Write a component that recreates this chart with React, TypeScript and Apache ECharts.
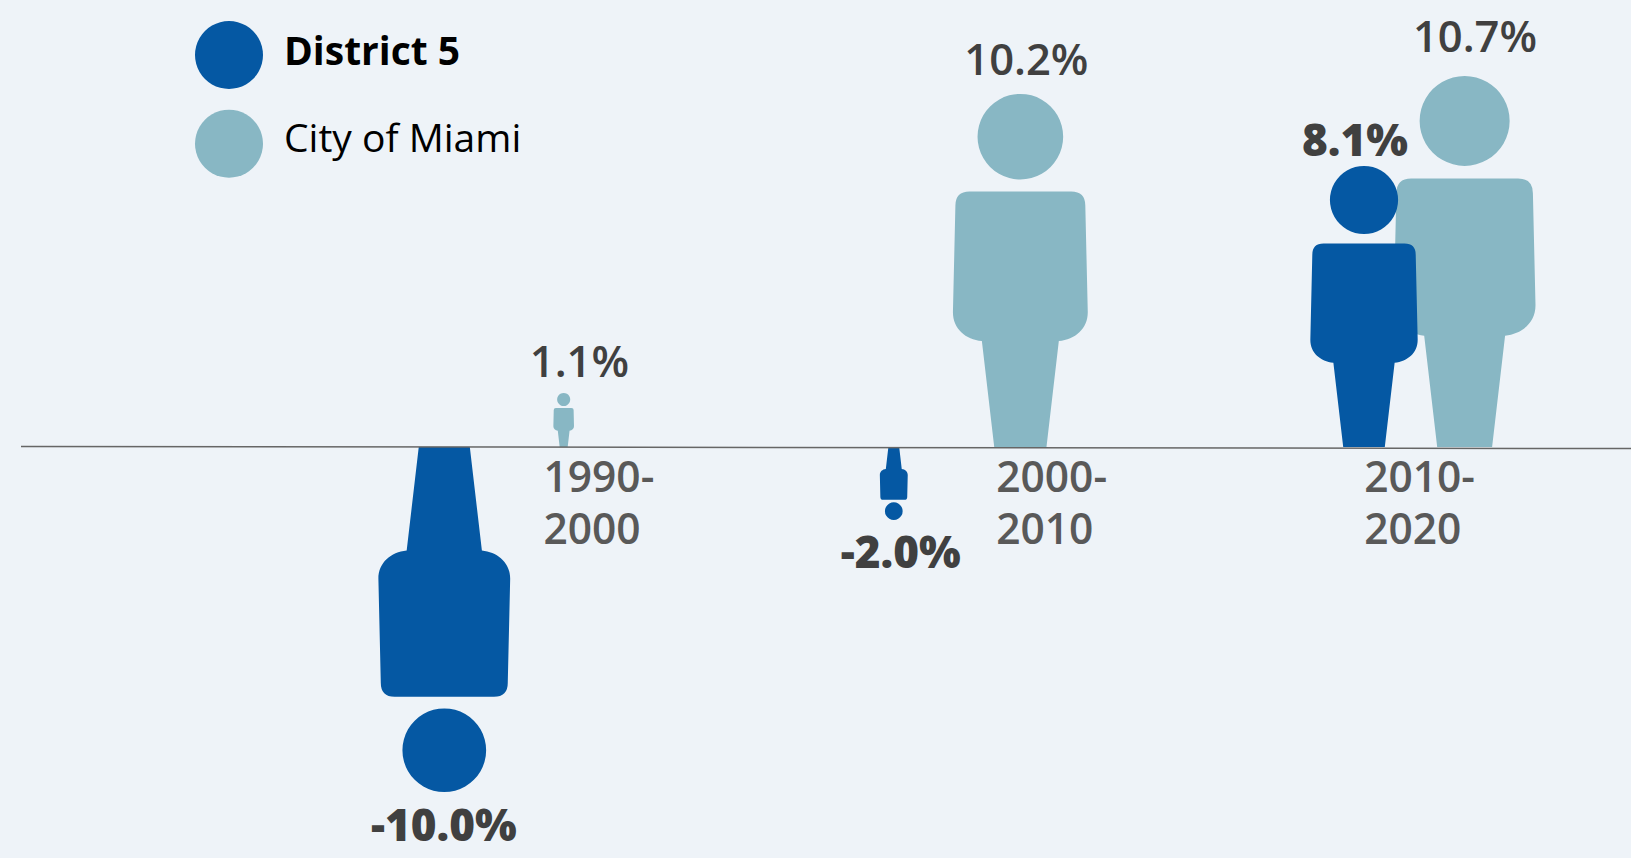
import React, { useEffect, useRef } from "react";
import * as echarts from "echarts";

// ---- data ----
const periods = ["1990-\n2000", "2000-\n2010", "2010-\n2020"];
const district5Values = [-10.0, -2.0, 8.1];
const cityOfMiamiValues = [1.1, 10.2, 10.7];
// height each figure is actually drawn at, in axis units (small figures are drawn a bit larger than their value)
const district5Drawn = [-9.97, -2.1, 8.1];
const cityOfMiamiDrawn = [1.55, 10.2, 10.72];

// ---- layout (x-axis units are percent of the chart width) ----
const district5X = [27.24, 54.8, 83.63];
const cityOfMiamiX = [34.56, 62.56, 89.8];
const periodLabelX = [33.32, 61.08, 83.64];
const district5LabelOffset = [[-0.5, 32], [7, 31], [-9, 27]];
const cityOfMiamiLabelOffset = [[15.7, 33], [6, 35], [10.3, 40]];

const BLUE = "#0558a3";
const TEAL = "#88b7c4";
const BG = "#eef3f8";
const FONT = '"Open Sans", sans-serif';

const BODY =
  "M-74 0L-109 -300C-155 -305 -191 -335 -191 -382L-184 -684Q-184 -724 -144 -724L144 -724Q184 -724 184 -684L191 -382C191 -335 155 -305 109 -300L74 0Z";

function figureSeries(
  name: string,
  color: string,
  xs: number[],
  values: number[],
  drawn: number[],
  offsets: number[][],
  bold: boolean,
) {
  return {
    type: "custom",
    name,
    coordinateSystem: "cartesian2d",
    clip: false,
    silent: true,
    itemStyle: { color },
    encode: { x: 0, y: 1 },
    data: xs.map((x, i) => [x, drawn[i], values[i], i]),
    renderItem: (_p: any, api: any) => {
      const x = api.value(0);
      const h = api.value(1);
      const v = api.value(2);
      const i = api.value(3);
      const base = api.coord([x, 0]);
      const tip = api.coord([x, h]);
      const height = Math.abs(base[1] - tip[1]);
      const s = height / 1000;
      const dir = h < 0 ? -1 : 1;
      const [dx, dy] = offsets[i];
      return {
        type: "group",
        children: [
          {
            type: "group",
            x: base[0],
            y: base[1],
            scaleX: s,
            scaleY: s * dir,
            children: [
              { type: "circle", shape: { cx: 0, cy: -879, r: 121.3 }, style: { fill: color } },
              {
                type: "path",
                shape: { pathData: BODY, layout: "cover", x: -191, y: -724, width: 382, height: 724 },
                style: { fill: color },
              },
            ],
          },
          {
            type: "text",
            x: base[0] + dx,
            y: tip[1] - dir * dy,
            style: {
              text: `${v.toFixed(1)}%`,
              fill: "#404040",
              font: `${bold ? 800 : 600} ${bold ? 44 : 43.5}px ${FONT}`,
              align: "center",
              verticalAlign: "middle",
            },
          },
        ],
      };
    },
  };
}

export default function App() {
  const ref = useRef<HTMLDivElement>(null);
  useEffect(() => {
    const chart = echarts.init(ref.current!, undefined, { renderer: "svg" });
    const unit = 34.65;
    chart.setOption({
      animation: false,
      backgroundColor: BG,
      textStyle: { fontFamily: FONT },
      grid: { left: 0, right: 0, top: 0, bottom: 0, outerBoundsMode: "none", containLabel: false },
      legend: {
        orient: "vertical",
        left: 195,
        top: 21,
        padding: 0,
        itemWidth: 68,
        itemHeight: 68,
        itemGap: 20.7,
        icon: "circle",
        selectedMode: false,
        data: ["District 5", "City of Miami"],
        formatter: (n: string) => (n === "District 5" ? `{b|${n}}` : `{r|${n}}`),
        textStyle: {
          rich: {
            b: { fontFamily: FONT, fontSize: 39, fontWeight: 700, color: "#000", padding: [0, 0, 12, 16] },
            r: { fontFamily: FONT, fontSize: 39, fontWeight: 400, color: "#000", padding: [0, 0, 14, 16] },
          },
        },
      },
      xAxis: {
        type: "value",
        position: "bottom",
        offset: -(858 - 447),
        min: 0,
        max: 100,
        splitLine: { show: false },
        axisLine: { show: false, onZero: false },
        axisTick: { show: false },
        axisLabel: {
          customValues: periodLabelX,
          formatter: (v: number) => periods[periodLabelX.indexOf(v)] ?? "",
          align: "left",
          margin: 2,
          fontFamily: FONT,
          fontSize: 42.5,
          fontWeight: 600,
          lineHeight: 52,
          color: "#595959",
        },
      },
      yAxis: {
        type: "value",
        min: -(858 - 447) / unit,
        max: 447 / unit,
        show: false,
      },
      graphic: [
        {
          type: "line",
          z: 100,
          shape: { x1: 21, y1: 446.4, x2: 1631, y2: 448.6 },
          style: { stroke: "#666666", lineWidth: 1.5 },
        },
      ],
      series: [
        figureSeries("City of Miami", TEAL, cityOfMiamiX, cityOfMiamiValues, cityOfMiamiDrawn, cityOfMiamiLabelOffset, false),
        figureSeries("District 5", BLUE, district5X, district5Values, district5Drawn, district5LabelOffset, true),
      ],
    });
    return () => chart.dispose();
  }, []);
  return <div ref={ref} style={{ position: "fixed", left: 0, top: 0, width: 1631, height: 858 }} />;
}
